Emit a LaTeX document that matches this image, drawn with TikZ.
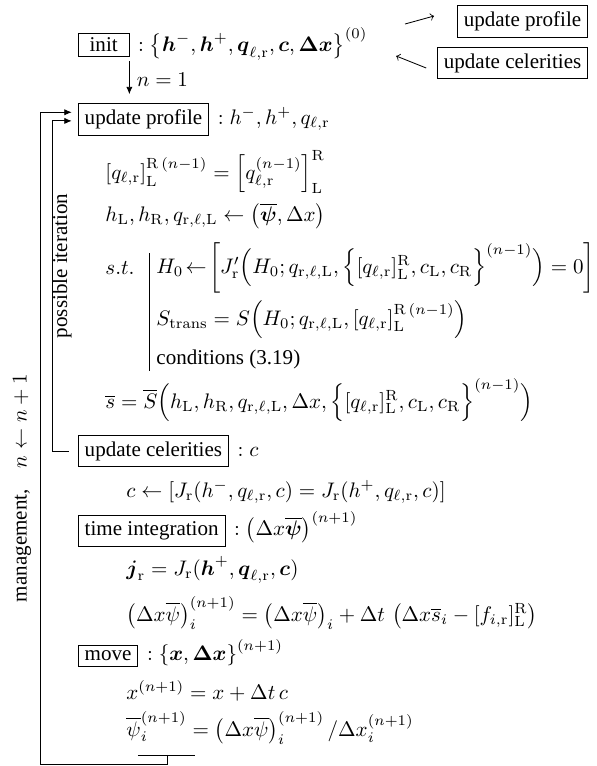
\documentclass[tikz,border=0pt]{standalone}
\usepackage{amsmath,amssymb}
\usepackage[no-math]{fontspec}
\setmainfont{Liberation Serif}
\usepackage{tikz}
\usetikzlibrary{
  arrows.meta,
  positioning,
  calc
}
\newcommand{\qlr}{q_{\ell,\mathrm{r}}}
\newcommand{\qrlL}{q_{\mathrm{r},\ell,\mathrm{L}}}
\newcommand{\jumpLR}[1]{[#1]_{\mathrm{L}}^{\mathrm{R}}}
\tikzset{
  stagebox/.style={draw,inner sep=3pt,anchor=west},
  hintbox/.style={draw,inner sep=3pt,anchor=east},
  eqline/.style={anchor=west,inner sep=0pt},
  coloneq/.style={anchor=base west,inner sep=0pt},
  looparrow/.style={-{Latex[length=3.5pt,width=3pt]},thin},
  hintarrow/.style={-to,thin},
  sidelabel/.style={rotate=90},
}

\begin{document}
\begin{tikzpicture}[x=0.475pt,y=-0.475pt]
  \useasboundingbox (0,0) rectangle (597,766);

  % Initialisation
  \node[stagebox,inner ysep=2pt,minimum width=24pt] (init) at (78,45) {init};
  \node[coloneq] (initeq) at ([xshift=4pt]init.base east) {$:\left\{\boldsymbol{h}^-,\boldsymbol{h}^+,\boldsymbol{q}_{\ell,\mathrm{r}},\boldsymbol{c},\boldsymbol{\Delta x}\right\}^{(0)}$};
  \node[hintbox] (hintprof) at (588,21) {update profile};
  \node[hintbox] (hintcel) at (588,63) {update celerities};
  \draw[hintarrow] ($(hintprof.west)+(-52,3)$) -- ($(hintprof.west)+(-23,-5)$);
  \draw[hintarrow] ($(hintcel.west)+(-11,5)$) -- ($(hintcel.west)+(-41,-7)$);

  % Update profile
  \node[stagebox] (prof) at (78,119) {update profile};
  \node[coloneq] (profeq) at ([xshift=4pt]prof.base east) {$: h^-, h^+, \qlr$};
  \draw[looparrow,shorten <=2pt,shorten >=4pt] (init.south east) -- (init.south east |- prof.north)
    node[midway,right] {$n=1$};
  \node[eqline] (jump) at (105,172) {$\left[\qlr\right]_{\mathrm{L}}^{\mathrm{R}\,(n-1)} = \left[q_{\ell,\mathrm{r}}^{(n-1)}\right]_{\mathrm{L}}^{\mathrm{R}}$};
  \node[eqline] (states) at (105,216) {$h_{\mathrm{L}}, h_{\mathrm{R}}, \qrlL \leftarrow \left(\overline{\boldsymbol{\psi}}, \Delta x\right)$};
  \node[eqline] (st) at (105,268) {$s.t.$};
  \node[eqline] (hzero) at (156,268) {$H_0 \!\leftarrow\! \left[J'_{\mathrm{r}}\Big(H_0; \qrlL, \Big\{\jumpLR{\qlr}, c_{\mathrm{L}}, c_{\mathrm{R}}\Big\}^{(n-1)}\Big) = 0\right]$};
  \node[eqline] (strans) at (156,320) {$S_{\mathrm{trans}} = S\Big(H_0; \qrlL, [\qlr]_{\mathrm{L}}^{\mathrm{R}\,(n-1)}\Big)$};
  \node[eqline] (cond) at (156,359) {conditions (3.19)};
  \draw ([shift={(-3pt,7pt)}]hzero.west) -- ([shift={(-3pt,-1pt)}]hzero.west |- cond.south);
  \node[eqline] (sbar) at (105,400) {$\overline{s} = \overline{S}\Big(h_{\mathrm{L}}, h_{\mathrm{R}}, \qrlL, \Delta x, \Big\{\jumpLR{\qlr}, c_{\mathrm{L}}, c_{\mathrm{R}}\Big\}^{(n-1)}\Big)$};

  % Update celerities
  \node[stagebox] (cel) at (78,451) {update celerities};
  \node[coloneq] (celeq) at ([xshift=4pt]cel.base east) {$: c$};
  \node[eqline] (celrow) at (126,492) {$c \leftarrow \left[J_{\mathrm{r}}(h^-, \qlr, c) = J_{\mathrm{r}}(h^+, \qlr, c)\right]$};

  % Time integration
  \node[stagebox] (time) at (78,531) {time integration};
  \node[coloneq] (timeeq) at ([xshift=4pt]time.base east) {$: \left(\Delta x\overline{\boldsymbol{\psi}}\right)^{(n+1)}$};
  \node[eqline] (flux) at (126,570) {$\boldsymbol{j}_{\mathrm{r}} = J_{\mathrm{r}}(\boldsymbol{h}^+, \boldsymbol{q}_{\ell,\mathrm{r}}, \boldsymbol{c})$};
  \node[eqline] (scheme) at (126,613) {$\left(\Delta x\overline{\psi}\right)_i^{(n+1)} = \left(\Delta x\overline{\psi}\right)_i + \Delta t\,\left(\Delta x\overline{s}_i - \jumpLR{f_{i,\mathrm{r}}}\right)$};

  % Move
  \node[stagebox,inner ysep=2.5pt] (move) at (78,656) {move};
  \node[coloneq] (moveeq) at ([xshift=4pt]move.base east) {$: \left\{\boldsymbol{x}, \boldsymbol{\Delta x}\right\}^{(n+1)}$};
  \node[eqline] (pos) at (126,691) {$x^{(n+1)} = x + \Delta t\, c$};
  \node[eqline] (mean) at (126,728) {$\overline{\psi}_i^{(n+1)} = \left(\Delta x\overline{\psi}\right)_i^{(n+1)} / \Delta x_i^{(n+1)}$};

  % Loops
  \coordinate (tail) at ($(mean.south west)+(41,10)$);
  \coordinate (outercorner) at (40.7,764);
  \coordinate (innerbend) at (52.3,300);
  \draw ($(mean.south west)+(12,10)$) -- ($(mean.south west)+(69,10)$);
  \draw[looparrow,shorten >=3pt] (tail) |- (outercorner) |- ([yshift=3.2pt]prof.west);
  \draw[looparrow,shorten >=3pt] ([xshift=-4.5pt]cel.west) -| (innerbend) |- ([yshift=-0.9pt]prof.west);
  \node[sidelabel] (iterlabel) at (62,266) {possible iteration};
  \node[sidelabel] (meshlabel) at (22,488) {management,\quad$n\leftarrow n+1$};
\end{tikzpicture}
\end{document}
